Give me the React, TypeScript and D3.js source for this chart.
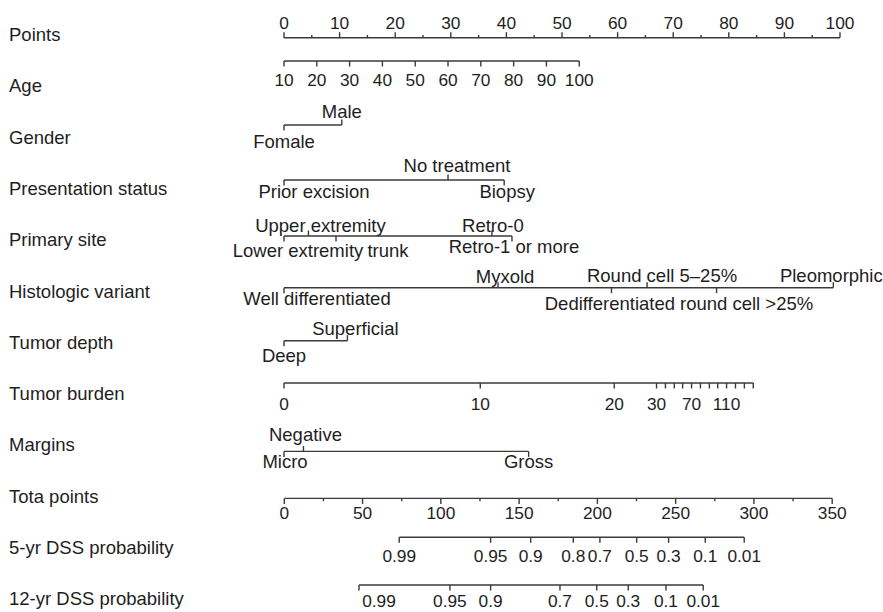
import React from 'react';
import * as d3 from 'd3';

const W = 883;
const H = 612;

// ---------- data ----------
const rowNames = [
  'Points', 'Age', 'Gender', 'Presentation status', 'Primary site', 'Histologic variant',
  'Tumor depth', 'Tumor burden', 'Margins', 'Tota points', '5-yr DSS probability', '12-yr DSS probability',
];

const pointsMajor = [0, 10, 20, 30, 40, 50, 60, 70, 80, 90, 100];
const pointsMinor = [5, 15, 25, 35, 45, 55, 65, 75, 85, 95];

const ageTicks = [10, 20, 30, 40, 50, 60, 70, 80, 90, 100];
const ageDomain = [10, 100];
const agePointsRange = [0, 53.1];

const genderCats = ['Fomale', 'Male'];
const genderPts = [0, 10.4];

const presentationCats = ['Prior excision', 'No treatment', 'Biopsy'];
const presentationPts = [0, 29.5, 39.6];

const siteCats = ['Lower extremity', 'Upper extremity', 'trunk', 'Retro-0', 'Retro-1 or more'];
const sitePts = [0, 4.4, 9.35, 37.4, 41.0];

const histCats = ['Well differentiated', 'Myxold', 'Dedifferentiated', 'Round cell 5–25%', 'round cell >25%', 'Pleomorphic'];
const histPts = [0, 38.5, 58.9, 65.3, 77.8, 98.8];

const depthCats = ['Deep', 'Superficial'];
const depthPts = [0, 11.4];

const burdenValues = [0, 10, 20, 30, 40, 50, 60, 70, 80, 90, 100, 110, 120, 130, 140];
const burdenPts = [0, 35.3, 59.4, 67.0, 68.6, 70.2, 71.7, 73.3, 74.9, 76.5, 78.0, 79.6, 81.2, 82.8, 84.4];
const burdenLabeled = [0, 10, 20, 30, 70, 110];

const marginCats = ['Micro', 'Negative', 'Gross'];
const marginPts = [0, 3.5, 44.0];

const totalMajor = [0, 50, 100, 150, 200, 250, 300, 350];
const totalMinor = [25, 75, 125, 175, 225, 275, 325];

const dss5Probs = ['0.99', '0.95', '0.9', '0.8', '0.7', '0.5', '0.3', '0.1', '0.01'];
const dss5Total = [73.4, 131.8, 157.4, 184.6, 201.6, 225.1, 245.5, 268.9, 293.8];
const dss12Probs = ['0.99', '0.95', '0.9', '0.7', '0.5', '0.3', '0.1', '0.01'];
const dss12Total = [47.7, 105.8, 131.8, 176.1, 199.6, 219.7, 243.8, 267.6];

// ---------- layout ----------
const FONT = '"Liberation Sans", Arial, Helvetica, sans-serif';
const FS = 18.5;
const FS_NUM = 17.3;
const TEXT = '#1e1e1e';
const LINE = '#3a3a3a';
const SW = 1.4;
const TICK = 5.5;

const axisY = [37.7, 61, 125, 180, 236, 287.7, 340.7, 383, 451.4, 498.4, 537.3, 585];
const rowLabelY = (i: number) => 41 + 51.3 * i;

type L = { up: boolean; dx: number; dy: number };
const genderLayout: L[] = [
  { up: false, dx: 0, dy: 23.3 },
  { up: true, dx: 0, dy: -6.7 },
];
const presentationLayout: L[] = [
  { up: false, dx: 30, dy: 18.3 },
  { up: true, dx: 9, dy: -8.3 },
  { up: false, dx: 3, dy: 18.3 },
];
const siteLayout: L[] = [
  { up: false, dx: 14, dy: 20.7 },
  { up: true, dx: 12, dy: -4.5 },
  { up: false, dx: 52, dy: 20.7 },
  { up: true, dx: 1, dy: -4.5 },
  { up: false, dx: 2, dy: 17.3 },
];
const histLayout: L[] = [
  { up: false, dx: 33, dy: 17.3 },
  { up: true, dx: 7, dy: -4.4 },
  { up: false, dx: -1.6, dy: 22.3 },
  { up: true, dx: 15, dy: -6 },
  { up: false, dx: 30, dy: 22.3 },
  { up: true, dx: -2, dy: -6 },
];
const depthLayout: L[] = [
  { up: false, dx: 0, dy: 21.6 },
  { up: true, dx: 8, dy: -5.7 },
];
const marginLayout: L[] = [
  { up: false, dx: 1, dy: 17 },
  { up: true, dx: 2, dy: -10 },
  { up: false, dx: 0, dy: 17 },
];

const xPts = d3.scaleLinear().domain([0, 100]).range([284, 840]);
const xTot = d3.scaleLinear().domain([0, 350]).range([284.3, 832.2]);
const ageToPts = d3.scaleLinear().domain(ageDomain).range(agePointsRange);

function Txt(props: { x: number; y: number; anchor?: string; size?: number; children: React.ReactNode }) {
  return (
    <text x={props.x} y={props.y} textAnchor={props.anchor || 'middle'} fontFamily={FONT} fontSize={props.size || FS} fill={TEXT}>
      {props.children}
    </text>
  );
}

function CatRow(props: { y: number; cats: string[]; pts: number[]; layout: L[] }) {
  const { y, cats, pts, layout } = props;
  const xs = pts.map((p) => xPts(p));
  const [x0, x1] = d3.extent(xs) as [number, number];
  return (
    <g>
      <line x1={x0} x2={x1} y1={y} y2={y} stroke={LINE} strokeWidth={SW} />
      {cats.map((c, i) => (
        <g key={c}>
          <line x1={xs[i]} x2={xs[i]} y1={y} y2={layout[i].up ? y - TICK : y + TICK} stroke={LINE} strokeWidth={SW} />
          <Txt x={xs[i] + layout[i].dx} y={y + layout[i].dy}>{c}</Txt>
        </g>
      ))}
    </g>
  );
}

export default function App() {
  const burdenScale = (v: number) => xPts(burdenPts[burdenValues.indexOf(v)]);
  return (
    <svg width={W} height={H} style={{ position: 'absolute', left: 0, top: 0, background: '#fff' }}>
      <rect width={W} height={H} fill="#fff" />
      {rowNames.map((n, i) => (
        <Txt key={n} x={9} y={rowLabelY(i)} anchor="start">{n}</Txt>
      ))}

      {/* Points */}
      <g>
        <line x1={xPts(0)} x2={xPts(100)} y1={axisY[0]} y2={axisY[0]} stroke={LINE} strokeWidth={SW} />
        {pointsMajor.map((t) => (
          <g key={t}>
            <line x1={xPts(t)} x2={xPts(t)} y1={axisY[0]} y2={axisY[0] - TICK} stroke={LINE} strokeWidth={SW} />
            <Txt x={xPts(t)} y={axisY[0] - 8.4} size={FS_NUM}>{t}</Txt>
          </g>
        ))}
        {pointsMinor.map((t) => (
          <line key={t} x1={xPts(t)} x2={xPts(t)} y1={axisY[0]} y2={axisY[0] - 2.8} stroke={LINE} strokeWidth={SW} />
        ))}
      </g>

      {/* Age */}
      <g>
        <line x1={xPts(ageToPts(ageDomain[0]))} x2={xPts(ageToPts(ageDomain[1]))} y1={axisY[1]} y2={axisY[1]} stroke={LINE} strokeWidth={SW} />
        {ageTicks.map((a) => (
          <g key={a}>
            <line x1={xPts(ageToPts(a))} x2={xPts(ageToPts(a))} y1={axisY[1]} y2={axisY[1] + TICK} stroke={LINE} strokeWidth={SW} />
            <Txt x={xPts(ageToPts(a))} y={axisY[1] + 25} size={FS_NUM}>{a}</Txt>
          </g>
        ))}
      </g>

      <CatRow y={axisY[2]} cats={genderCats} pts={genderPts} layout={genderLayout} />
      <CatRow y={axisY[3]} cats={presentationCats} pts={presentationPts} layout={presentationLayout} />
      <CatRow y={axisY[4]} cats={siteCats} pts={sitePts} layout={siteLayout} />
      <CatRow y={axisY[5]} cats={histCats} pts={histPts} layout={histLayout} />
      <CatRow y={axisY[6]} cats={depthCats} pts={depthPts} layout={depthLayout} />

      {/* Tumor burden */}
      <g>
        <line x1={burdenScale(burdenValues[0])} x2={burdenScale(burdenValues[burdenValues.length - 1])} y1={axisY[7]} y2={axisY[7]} stroke={LINE} strokeWidth={SW} />
        {burdenValues.map((v) => (
          <line key={v} x1={burdenScale(v)} x2={burdenScale(v)} y1={axisY[7]} y2={axisY[7] + TICK} stroke={LINE} strokeWidth={SW} />
        ))}
        {burdenLabeled.map((v) => (
          <Txt key={v} x={burdenScale(v)} y={axisY[7] + 27.4} size={FS_NUM}>{v}</Txt>
        ))}
      </g>

      <CatRow y={axisY[8]} cats={marginCats} pts={marginPts} layout={marginLayout} />

      {/* Total points */}
      <g>
        <line x1={xTot(0)} x2={xTot(350)} y1={axisY[9]} y2={axisY[9]} stroke={LINE} strokeWidth={SW} />
        {totalMajor.map((t) => (
          <g key={t}>
            <line x1={xTot(t)} x2={xTot(t)} y1={axisY[9]} y2={axisY[9] + TICK} stroke={LINE} strokeWidth={SW} />
            <Txt x={xTot(t)} y={axisY[9] + 20.6} size={FS_NUM}>{t}</Txt>
          </g>
        ))}
        {totalMinor.map((t) => (
          <line key={t} x1={xTot(t)} x2={xTot(t)} y1={axisY[9]} y2={axisY[9] + 2.8} stroke={LINE} strokeWidth={SW} />
        ))}
      </g>

      {/* 5-yr DSS */}
      <g>
        <line x1={xTot(d3.min(dss5Total)!)} x2={xTot(d3.max(dss5Total)!)} y1={axisY[10]} y2={axisY[10]} stroke={LINE} strokeWidth={SW} />
        {dss5Total.map((t, i) => (
          <g key={i}>
            <line x1={xTot(t)} x2={xTot(t)} y1={axisY[10]} y2={axisY[10] + TICK} stroke={LINE} strokeWidth={SW} />
            <Txt x={xTot(t)} y={axisY[10] + 24.4} size={FS_NUM}>{dss5Probs[i]}</Txt>
          </g>
        ))}
      </g>

      {/* 12-yr DSS */}
      <g>
        <line x1={xTot(d3.min(dss12Total)!)} x2={xTot(d3.max(dss12Total)!)} y1={axisY[11]} y2={axisY[11]} stroke={LINE} strokeWidth={SW} />
        {dss12Total.map((t, i) => (
          <g key={i}>
            <line x1={xTot(t)} x2={xTot(t)} y1={axisY[11]} y2={axisY[11] + TICK} stroke={LINE} strokeWidth={SW} />
            <Txt x={xTot(t) + (i === 0 ? 20 : 0)} y={axisY[11] + 21.7} size={FS_NUM}>{dss12Probs[i]}</Txt>
          </g>
        ))}
      </g>
    </svg>
  );
}
